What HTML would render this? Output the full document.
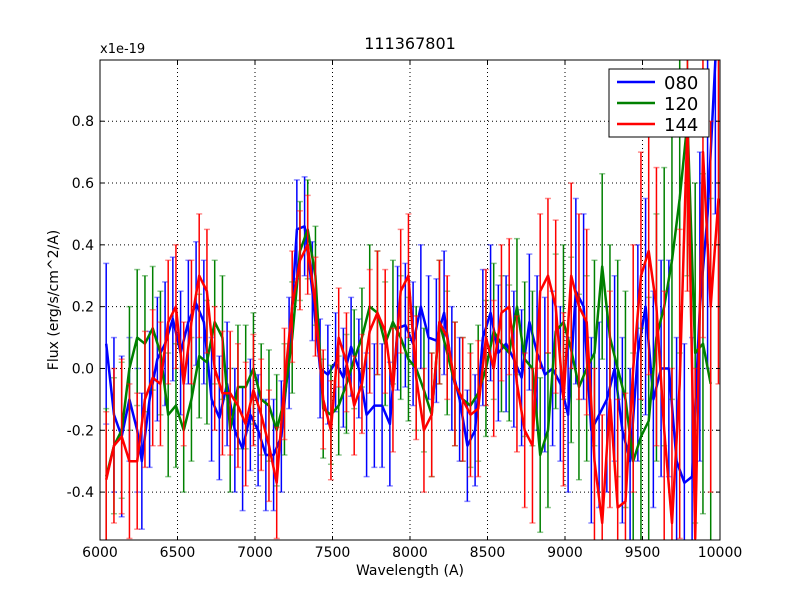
<!DOCTYPE html>
<html><head><meta charset="utf-8"><style>
html,body{margin:0;padding:0;background:#fff;overflow:hidden;width:800px;height:600px}
svg{display:block}
svg text{font-family:"DejaVu Sans","Liberation Sans",sans-serif}
</style></head><body>
<svg id="chart" width="800" height="600" viewBox="0 0 800 600" xmlns="http://www.w3.org/2000/svg">
<rect x="0" y="0" width="800" height="600" fill="#fff"/>
<defs><clipPath id="clip"><rect x="100" y="60" width="620" height="480"/></clipPath></defs>
<g id="grid"></g>
<g id="series" clip-path="url(#clip)"></g>
<rect x="100" y="60" width="620" height="480" fill="none" stroke="#000" stroke-width="1"/>
<g id="ticks"></g>
<text x="410" y="49" font-size="16" text-anchor="middle">111367801</text>
<text x="100" y="53" font-size="13">x1e-19</text>
<text x="410" y="575" font-size="14" text-anchor="middle">Wavelength (A)</text>
<text x="58" y="300" font-size="14" text-anchor="middle" transform="rotate(-90 58 300)">Flux (erg/s/cm^2/A)</text>
<g>
<rect x="609" y="69" width="100" height="68" fill="#fff" stroke="#000" stroke-width="1"/>
<g><line x1="617" y1="82" x2="655" y2="82" stroke="#0000ff" stroke-width="2.5"/><text x="664" y="89" font-size="18">080</text></g>
<g><line x1="617" y1="103" x2="655" y2="103" stroke="#008000" stroke-width="2.5"/><text x="664" y="110" font-size="18">120</text></g>
<g><line x1="617" y1="124" x2="655" y2="124" stroke="#ff0000" stroke-width="2.5"/><text x="664" y="131" font-size="18">144</text></g>
</g>
</svg>
<script>
const xTicks=[6000,6500,7000,7500,8000,8500,9000,9500,10000];
const yTicks=[-0.4,-0.2,0.0,0.2,0.4,0.6,0.8];
const yTickLabels=["-0.4","-0.2","0.0","0.2","0.4","0.6","0.8"];
const wave080=[6040,6090,6140,6190,6240,6270,6320,6370,6420,6470,6520,6570,6620,6670,6720,6770,6820,6870,6920,6970,7020,7070,7120,7170,7220,7270,7320,7370,7420,7470,7520,7570,7620,7670,7720,7770,7820,7870,7920,7970,8020,8070,8120,8170,8220,8270,8320,8370,8420,8470,8520,8570,8620,8670,8720,8770,8820,8870,8920,8970,9020,9070,9120,9170,9220,9270,9320,9370,9420,9470,9520,9570,9620,9670,9720,9770,9820,9870,9920,9970];
const flux080=[0.08,-0.15,-0.22,-0.1,-0.2,-0.3,-0.1,0.03,0.08,0.16,0.05,0.15,0.21,0.15,-0.1,-0.16,-0.05,-0.2,-0.26,-0.15,-0.2,-0.28,-0.28,-0.22,0.05,0.45,0.46,0.25,0.0,-0.02,0.02,-0.03,0.07,0.0,-0.15,-0.12,-0.12,-0.18,0.13,0.14,0.08,0.2,0.1,0.09,0.18,0.0,-0.1,-0.25,-0.2,0.1,0.18,0.05,0.08,0.03,-0.03,0.15,0.05,-0.02,0.0,-0.05,-0.15,0.25,0.2,-0.2,-0.15,-0.1,0.0,-0.2,-0.3,0.05,0.2,-0.1,0.0,0.0,-0.3,-0.37,-0.35,0.2,0.5,1.0];
const err080=[0.26,0.25,0.26,0.2,0.2,0.22,0.22,0.2,0.2,0.2,0.2,0.2,0.2,0.2,0.2,0.2,0.2,0.2,0.2,0.18,0.18,0.18,0.18,0.18,0.18,0.16,0.16,0.16,0.16,0.16,0.16,0.16,0.16,0.16,0.2,0.2,0.2,0.2,0.2,0.2,0.2,0.2,0.2,0.2,0.2,0.2,0.2,0.18,0.18,0.22,0.22,0.22,0.22,0.22,0.22,0.22,0.25,0.25,0.25,0.25,0.25,0.3,0.3,0.3,0.3,0.3,0.3,0.3,0.3,0.35,0.35,0.35,0.35,0.35,0.4,0.45,0.45,0.5,0.5,0.5];
const wave120=[6040,6090,6140,6190,6240,6290,6340,6390,6440,6490,6540,6590,6640,6690,6740,6790,6840,6890,6940,6990,7040,7090,7140,7190,7240,7290,7340,7390,7440,7490,7540,7590,7640,7690,7740,7790,7840,7890,7940,7990,8040,8090,8140,8190,8240,8290,8340,8390,8440,8490,8540,8590,8640,8690,8740,8790,8840,8890,8940,8990,9040,9090,9140,9190,9240,9290,9340,9390,9440,9490,9540,9590,9640,9690,9740,9790,9840,9890,9940];
const flux120=[-0.35,-0.25,-0.2,0.0,0.1,0.08,0.13,0.05,-0.15,-0.12,-0.2,-0.1,0.04,0.02,0.15,0.1,-0.2,-0.06,-0.06,0.0,-0.1,-0.12,-0.2,-0.1,0.1,0.38,0.45,0.3,-0.13,-0.15,-0.12,-0.05,0.03,0.1,0.2,0.18,0.08,0.15,0.1,0.03,0.0,-0.07,-0.15,0.15,0.05,-0.05,-0.1,-0.12,-0.08,0.0,0.12,0.08,0.05,0.2,0.03,0.0,-0.28,-0.2,0.12,0.15,0.06,-0.06,0.0,0.05,0.33,0.1,0.0,-0.1,-0.3,-0.22,-0.17,0.1,0.2,0.35,0.55,0.8,0.05,0.08,-0.05];
const err120=[0.22,0.22,0.22,0.2,0.22,0.22,0.2,0.2,0.2,0.2,0.2,0.2,0.2,0.2,0.2,0.2,0.2,0.2,0.2,0.18,0.18,0.18,0.18,0.18,0.18,0.16,0.16,0.16,0.16,0.16,0.16,0.16,0.16,0.16,0.2,0.2,0.2,0.2,0.2,0.2,0.2,0.2,0.2,0.2,0.2,0.2,0.2,0.2,0.22,0.22,0.22,0.22,0.22,0.22,0.25,0.25,0.25,0.25,0.25,0.25,0.3,0.3,0.3,0.3,0.3,0.3,0.35,0.35,0.35,0.35,0.4,0.4,0.45,0.45,0.5,0.5,0.55,0.55,0.6];
const wave144=[6040,6090,6140,6190,6240,6290,6340,6390,6440,6490,6540,6590,6640,6690,6740,6790,6840,6890,6940,6990,7040,7090,7140,7190,7240,7290,7340,7390,7440,7490,7540,7590,7640,7690,7740,7790,7840,7890,7940,7990,8040,8090,8140,8190,8240,8290,8340,8390,8440,8490,8540,8590,8640,8690,8740,8790,8840,8890,8940,8990,9040,9090,9140,9190,9240,9290,9340,9390,9440,9490,9540,9590,9640,9690,9740,9790,9840,9890,9940,9990];
const flux144=[-0.36,-0.25,-0.22,-0.3,-0.3,-0.1,-0.03,-0.05,0.15,0.2,-0.05,0.15,0.3,0.25,0.0,-0.08,-0.08,-0.12,-0.18,-0.07,-0.15,-0.25,-0.37,-0.05,0.2,0.35,0.4,0.2,-0.1,-0.2,0.1,0.02,-0.12,-0.05,0.12,0.18,0.12,-0.07,0.25,0.3,-0.03,-0.2,-0.15,0.15,0.1,-0.05,-0.1,-0.15,-0.13,0.1,0.0,0.18,0.2,-0.05,-0.2,-0.25,0.25,0.3,0.2,-0.1,0.3,0.2,0.15,-0.3,-0.5,-0.1,-0.45,-0.43,0.0,0.3,0.38,0.2,-0.2,-0.5,-0.05,0.8,-0.55,0.7,0.2,0.55];
const err144=[0.22,0.25,0.25,0.25,0.22,0.22,0.22,0.2,0.2,0.2,0.2,0.2,0.2,0.2,0.2,0.2,0.2,0.2,0.2,0.18,0.18,0.18,0.18,0.18,0.18,0.16,0.16,0.16,0.16,0.16,0.16,0.16,0.16,0.16,0.2,0.2,0.2,0.2,0.2,0.2,0.2,0.2,0.2,0.2,0.2,0.2,0.2,0.2,0.22,0.22,0.22,0.22,0.22,0.22,0.25,0.25,0.25,0.25,0.28,0.28,0.3,0.3,0.3,0.3,0.35,0.35,0.35,0.35,0.4,0.4,0.4,0.45,0.45,0.5,0.5,0.55,0.55,0.6,0.6,0.6];

const X0=100,X1=720,Y0=540,Y1=60,xmin=6000,xmax=10000,ymin=-0.555,ymax=0.998;
function xs(v){return X0+(v-xmin)/(xmax-xmin)*(X1-X0);}
function ys(v){return Y0-(v-ymin)/(ymax-ymin)*(Y0-Y1);}
function clampY(y){return Math.max(Y1-6,Math.min(Y0+6,y));}
const NS="http://www.w3.org/2000/svg";
function mk(tag,attrs,parent){const e=document.createElementNS(NS,tag);for(const k in attrs)e.setAttribute(k,attrs[k]);parent.appendChild(e);return e;}
const grid=document.getElementById('grid'),ticks=document.getElementById('ticks'),ser=document.getElementById('series');
xTicks.forEach((t,i)=>{
  const x=xs(t);
  if(i>0&&i<xTicks.length-1){const g=mk('line',{x1:x,y1:Y1,x2:x,y2:Y0,stroke:'#000','stroke-width':1,'stroke-dasharray':'1,3'},grid);
  
  }
  mk('line',{x1:x,y1:Y0,x2:x,y2:Y0-4,stroke:'#000'},ticks);
  mk('line',{x1:x,y1:Y1,x2:x,y2:Y1+4,stroke:'#000'},ticks);
  const tx=mk('text',{x:x,y:Y0+17,'font-size':14,'text-anchor':'middle'},ticks);tx.textContent=t;
  
  
});
yTicks.forEach((t,i)=>{
  const y=ys(t);
  const g=mk('line',{x1:X0,y1:y,x2:X1,y2:y,stroke:'#000','stroke-width':1,'stroke-dasharray':'1,3'},grid);
  
  
  mk('line',{x1:X0,y1:y,x2:X0+4,y2:y,stroke:'#000'},ticks);
  mk('line',{x1:X1,y1:y,x2:X1-4,y2:y,stroke:'#000'},ticks);
  const tx=mk('text',{x:X0-6,y:y+5,'font-size':14,'text-anchor':'end'},ticks);tx.textContent=yTickLabels[i];
  
  
});
function drawSeries(w,f,e,color,name){
  const g=mk('g',{},ser);
  
  
  for(let i=0;i<w.length;i++){
    const x=xs(w[i]),ytr=ys(f[i]+e[i]),ybr=ys(f[i]-e[i]);
    const yt=clampY(ytr),yb=clampY(ybr);
    const b=mk('line',{x1:x,y1:yt,x2:x,y2:yb,stroke:color,'stroke-width':1.5},g);
    
    
    if(ytr>=Y1-6) mk('line',{x1:x-3,y1:yt,x2:x+3,y2:yt,stroke:color,'stroke-width':1.5,'stroke-opacity':0.45},g);
    if(ybr<=Y0+6) mk('line',{x1:x-3,y1:yb,x2:x+3,y2:yb,stroke:color,'stroke-width':1.5,'stroke-opacity':0.45},g);
  }
  const pts=w.map((v,i)=>xs(v).toFixed(1)+','+clampY(ys(f[i])).toFixed(1)).join(' ');
  const l=mk('polyline',{points:pts,fill:'none',stroke:color,'stroke-width':2.5,'stroke-linejoin':'round'},g);
  
  
}
drawSeries(wave080,flux080,err080,'#0000ff','080');
drawSeries(wave120,flux120,err120,'#008000','120');
drawSeries(wave144,flux144,err144,'#ff0000','144');
</script>
</body></html>
